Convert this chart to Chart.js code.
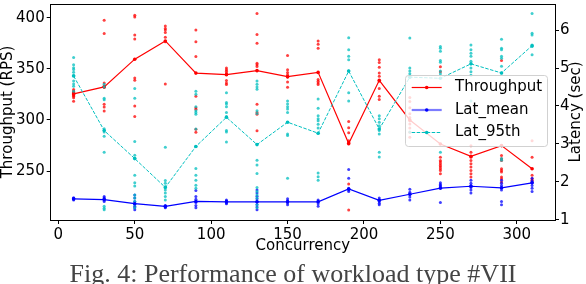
<!DOCTYPE html>
<html><head><meta charset="utf-8">
<script src="https://cdn.jsdelivr.net/npm/chart.js@4.4.0/dist/chart.umd.min.js"></script>
<style>
html,body{margin:0;padding:0;background:#fff;}
#wrap{position:relative;width:586px;height:284px;overflow:hidden;background:#fff;}
#c{position:absolute;left:0;top:0;}
#cap{position:absolute;left:0;width:586px;text-align:center;top:259px;font-family:'Liberation Serif','DejaVu Serif',serif;font-size:26px;line-height:30px;color:#444;white-space:nowrap;}
</style></head><body>
<div id="wrap"><canvas id="c" width="586" height="284"></canvas><div id="cap">Fig. 4: Performance of workload type #VII</div></div>
<script>
const concurrency = [10,30,50,70,90,110,130,150,170,190,210,230,250,270,290,310];
const throughputMean = [325.5,332.3,359.4,377.2,345.8,344.3,348.2,342.4,346.5,277.0,338.8,300.0,276.6,264.5,275.0,252.4];
const latMean = [1.55,1.53,1.42,1.35,1.48,1.47,1.47,1.47,1.47,1.81,1.51,1.67,1.83,1.88,1.84,1.97];
const lat95th = [4.79,3.35,2.61,1.85,2.93,3.70,2.98,3.57,3.28,4.92,3.39,4.76,4.73,5.11,4.87,5.59];

const throughputRuns = [
  [329.8,328.2,326.5,325.0,323.3,321.7,318.4,327.0,324.0],
  [397.5,384.5,336.2,333.0,315.3,312.7,308.8,332.0],
  [402.3,400.7,383.0,379.1,341.0,338.8,313.6,303.3],
  [391.7,389.4,387.8,385.5,380.7,376.5,335.2],
  [387.8,376.5,362.0,323.3,312.0,310.5,291.0,287.9],
  [350.7,349.1,347.5,345.8,338.5,336.2,334.6],
  [403.9,383.6,374.9,355.5,354.0,352.3,315.3,307.2,305.6,289.5],
  [363.0,349.1,346.5,344.3,341.7,337.1,332.0],
  [377.2,373.9,370.0,339.5,337.8,336.2,334.6],
  [298.5,292.5,287.5,279.8,278.2,276.6,237.5,212.0],
  [358.8,356.2,351.4,345.8,342.7,337.8,330.8,323.3,320.1],
  [322.0,318.0,312.0,306.0,302.5,299.3,296.1,292.2,288.0,283.2],
  [351.9,347.0,263.7,260.5,258.9,257.2,255.6,254.0,252.4,250.7,247.5],
  [274.9,268.5,263.7,260.5,257.2,254.0,250.7,247.5,244.3],
  [358.0,265.3,262.1,260.5,252.4,250.7,249.1,244.3,242.7,239.4],
  [279.8,263.7,246.0,242.7,241.1,239.4]
];
const latMeanRuns = [
  [1.58,1.56,1.55,1.54,1.52],
  [1.61,1.58,1.55,1.52,1.48],
  [1.65,1.57,1.48,1.42,1.35,1.31,1.26],
  [1.37,1.35,1.33,1.31],
  [1.77,1.61,1.54,1.45,1.37,1.31],
  [1.52,1.49,1.47,1.44,1.42],
  [1.78,1.70,1.62,1.55,1.47,1.40,1.33,1.26],
  [1.55,1.50,1.47,1.44,1.39],
  [1.52,1.47,1.42,1.35],
  [2.32,2.09,1.83,1.78,1.74],
  [1.57,1.52,1.48,1.43,1.39],
  [1.80,1.72,1.67,1.60,1.52],
  [1.97,1.93,1.90,1.87,1.45],
  [2.04,1.96,1.90,1.85,1.78,1.70],
  [2.04,1.96,1.90,1.84,1.78,1.48,1.39],
  [2.09,2.02,1.97,1.90,1.83,1.74]
];
const lat95thRuns = [
  [5.28,5.09,5.01,4.96,4.89,4.81,4.66,4.58,4.52,4.39],
  [4.57,4.50,4.20,4.16,3.40,3.31,3.20,2.78,1.35,1.30,1.26],
  [4.46,4.20,3.06,2.70,2.61,2.17,1.97,1.89,1.65,1.57,1.48,1.39,1.31],
  [2.91,2.03,1.96,1.87,1.78,1.70,1.61,1.52],
  [4.39,4.31,3.98,3.87,3.83,3.78,3.39,2.93,2.35,2.17,2.04,1.91,1.83],
  [4.35,4.09,4.05,3.98,3.83,3.72,3.35,3.31,3.05],
  [4.66,4.57,4.50,4.44,3.87,3.80,2.57,2.44,2.22,1.85,1.74,1.65,1.57,1.48,1.39,1.31],
  [4.13,4.05,3.98,3.92,3.83,3.26,3.22,2.09],
  [4.18,3.94,3.74,3.66,3.61,3.52,3.42,3.28,2.23,2.13,2.04],
  [5.80,5.48,5.31,5.22,4.92,4.35,4.13],
  [3.74,3.66,3.57,3.48,3.35,3.26,2.78,2.65],
  [5.79,5.00,4.92,4.85,4.76,3.31],
  [5.57,5.52,5.44,5.20,5.15,4.92,4.85,2.78],
  [5.61,5.48,5.39,5.31,5.18,5.00,4.90,4.81,4.13],
  [5.76,5.52,5.48,5.31,5.26,5.05,4.87,2.61,2.57],
  [6.44,5.92,5.87,5.61,5.57,5.35]
];
const xTicks = [0,50,100,150,200,250,300];
const leftTicks = [250,300,350,400];
const rightTicks = [1,2,3,4,5,6];
const seriesLabels = ['Throughput','Lat_mean','Lat_95th'];

const RED = '#ff0000', BLUE = '#0000ff', CYAN = '#00bfbf';
const FONT = 'DejaVu Sans';

function pairs(xs, ys){ return xs.map((x,i)=>({x:x, y:ys[i]})); }
function runs(xs, rs){ const out=[]; rs.forEach((r,i)=>r.forEach(v=>out.push({x:xs[i], y:v}))); return out; }

function fixedTicks(list){ return function(scale){ scale.ticks = list.map(v=>({value:v})); }; }
function fixSize(prop, val){
  return function(scale){
    scale[prop] = val;
    scale.paddingTop = 0; scale.paddingBottom = 0; scale.paddingLeft = 0; scale.paddingRight = 0;
  };
}

const framePlugin = {
  id: 'frame',
  afterDraw(chart){
    const ctx = chart.ctx, a = chart.chartArea;
    ctx.save();
    ctx.strokeStyle = '#000'; ctx.lineWidth = 1;
    ctx.beginPath(); ctx.moveTo(a.left, a.top + 0.5); ctx.lineTo(a.right, a.top + 0.5); ctx.stroke();
    ctx.fillStyle = '#000';
    ctx.font = '15px "' + FONT + '"';
    ctx.translate(576, (a.top + a.bottom) / 2);
    ctx.rotate(-Math.PI / 2);
    ctx.textAlign = 'center'; ctx.textBaseline = 'middle';
    ctx.fillText('Latency (sec)', 0, 0);
    ctx.restore();
  }
};

const legendPlugin = {
  id: 'mplLegend',
  afterDatasetsDraw(chart){
    const ctx = chart.ctx;
    const x0 = 405.5, y0 = 75.5, w = 142, h = 71, r = 3;
    ctx.save();
    ctx.beginPath();
    ctx.roundRect(x0, y0, w, h, r);
    ctx.fillStyle = 'rgba(255,255,255,0.8)'; ctx.fill();
    ctx.strokeStyle = 'rgba(204,204,204,0.9)'; ctx.lineWidth = 1; ctx.stroke();
    const rows = [87.5, 110, 132.5];
    const st = [
      {c: RED, dash: [], lw: 1.2, m: RED},
      {c: 'rgba(80,80,255,0.75)', dash: [], lw: 2.2, m: BLUE},
      {c: CYAN, dash: [3.5,1.5], lw: 1, m: CYAN}
    ];
    seriesLabels.forEach((lab, i) => {
      const y = rows[i];
      ctx.setLineDash(st[i].dash);
      ctx.strokeStyle = st[i].c; ctx.lineWidth = st[i].lw;
      ctx.beginPath(); ctx.moveTo(411.7, y); ctx.lineTo(441.7, y); ctx.stroke();
      ctx.setLineDash([]);
      ctx.fillStyle = st[i].m;
      ctx.beginPath(); ctx.arc(426.7, y, 1.8, 0, Math.PI*2); ctx.fill();
      ctx.fillStyle = '#000';
      ctx.font = '15px "' + FONT + '"';
      ctx.textAlign = 'left'; ctx.textBaseline = 'middle';
      ctx.fillText(lab, 455, y);
    });
    ctx.restore();
  }
};

const tickFont = {family: FONT, size: 15};

new Chart(document.getElementById('c'), {
  data: {
    datasets: [
      {type:'scatter', label:'tp_runs', data: runs(concurrency, throughputRuns), yAxisID:'y', order:6,
       pointRadius:1.5, pointBackgroundColor:'rgba(255,0,0,0.75)', pointBorderWidth:0, showLine:false},
      {type:'line', label: seriesLabels[0], data: pairs(concurrency, throughputMean), yAxisID:'y', order:5,
       borderColor: RED, borderWidth:1.2, pointRadius:1.8, pointBackgroundColor: RED, pointBorderWidth:0, tension:0, fill:false},
      {type:'scatter', label:'lm_runs', data: runs(concurrency, latMeanRuns), yAxisID:'y2', order:4,
       pointRadius:1.5, pointBackgroundColor:'rgba(0,0,255,0.75)', pointBorderWidth:0, showLine:false},
      {type:'scatter', label:'l95_runs', data: runs(concurrency, lat95thRuns), yAxisID:'y2', order:3,
       pointRadius:1.5, pointBackgroundColor:'rgba(0,191,191,0.75)', pointBorderWidth:0, showLine:false},
      {type:'line', label: seriesLabels[1], data: pairs(concurrency, latMean), yAxisID:'y2', order:2,
       borderColor: BLUE, borderWidth:1.2, pointRadius:1.8, pointBackgroundColor: BLUE, pointBorderWidth:0, tension:0, fill:false},
      {type:'line', label: seriesLabels[2], data: pairs(concurrency, lat95th), yAxisID:'y2', order:1,
       borderColor: CYAN, borderWidth:1, borderDash:[3.5,1.5], pointRadius:1.8, pointBackgroundColor: CYAN, pointBorderWidth:0, tension:0, fill:false}
    ]
  },
  options: {
    responsive:false, animation:false, devicePixelRatio:1,
    layout:{padding:{top:2,left:0,right:0,bottom:0}},
    plugins:{legend:{display:false}, tooltip:{enabled:false}},
    scales:{
      x:{type:'linear', position:'bottom', min:-5, max:325,
         afterBuildTicks: fixedTicks(xTicks), afterFit: fixSize('height', 64),
         grid:{display:true, drawOnChartArea:false, drawTicks:true, tickLength:4, tickColor:'#000', tickWidth:1},
         border:{display:true, color:'#000', width:1},
         ticks:{font:tickFont, color:'#000', padding:2, maxRotation:0, autoSkip:false, callback:v=>String(v)},
         title:{display:true, text:'Concurrency', color:'#000', font:{family:FONT, size:15, lineHeight:1.133}, padding:{top:0,bottom:29.7}}},
      y:{type:'linear', position:'left', min:202.3, max:413.3,
         afterBuildTicks: fixedTicks(leftTicks), afterFit: fixSize('width', 50.7),
         grid:{display:true, drawOnChartArea:false, drawTicks:true, tickLength:4, tickColor:'#000', tickWidth:1},
         border:{display:true, color:'#000', width:1},
         ticks:{font:tickFont, color:'#000', padding:2, autoSkip:false, callback:v=>String(v)},
         title:{display:true, text:'Throughput (RPS)', color:'#000', font:{family:FONT, size:15, lineHeight:1.133}, padding:{top:0,bottom:0}}},
      y2:{type:'linear', position:'right', min:0.99, max:6.69,
         afterBuildTicks: fixedTicks(rightTicks), afterFit: fixSize('width', 31),
         grid:{display:true, drawOnChartArea:false, drawTicks:true, tickLength:4, tickColor:'#000', tickWidth:1},
         border:{display:true, color:'#000', width:1},
         ticks:{font:tickFont, color:'#000', padding:1, autoSkip:false, callback:v=>String(v)},
         title:{display:false}}
    }
  },
  plugins:[legendPlugin, framePlugin]
});
</script>
</body></html>
